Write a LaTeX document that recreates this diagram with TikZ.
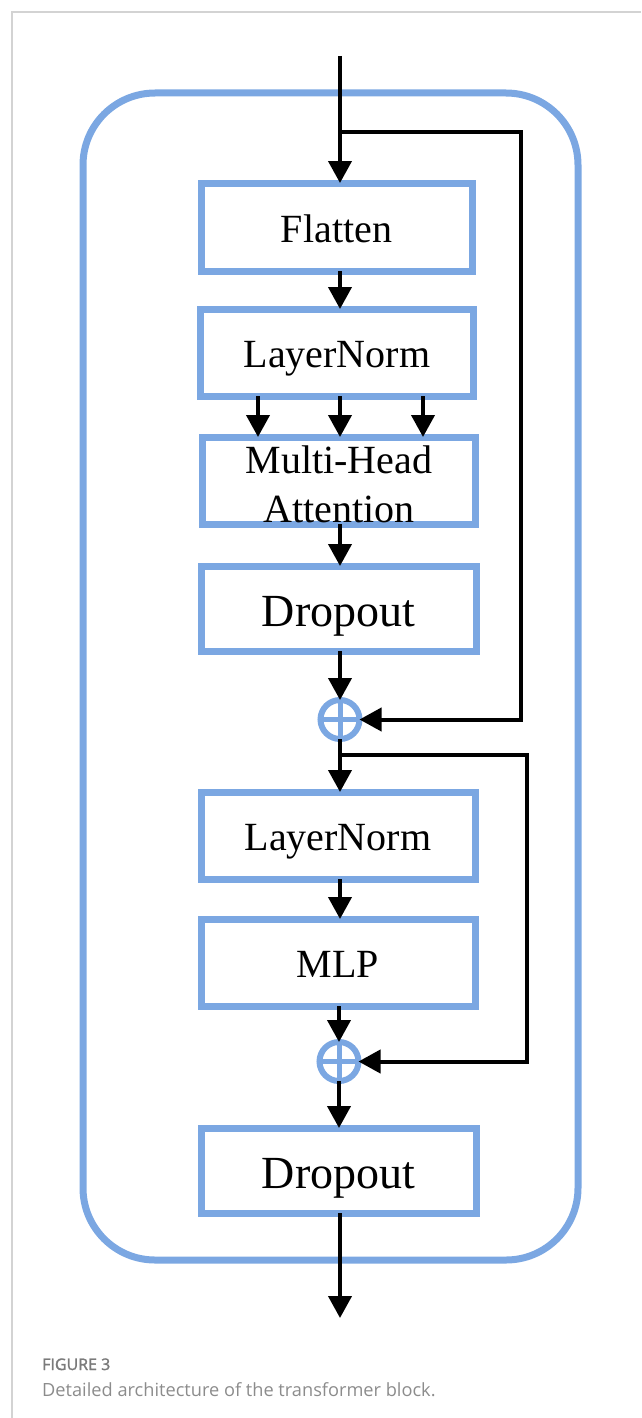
\documentclass[tikz,border=0pt]{standalone}
\usepackage{fontspec}
\newfontfamily\serifface{Liberation Serif}
\newfontfamily\capface{Open Sans}
\newfontfamily\caplabelface[RawFeature={embolden=1.6}]{Open Sans}
\usetikzlibrary{arrows.meta}
\definecolor{blockblue}{HTML}{7BA7E2}
\definecolor{rulegray}{HTML}{D3D3D3}
\definecolor{labelgray}{HTML}{7A7A7A}
\definecolor{captiongray}{HTML}{8C8C8C}
\begin{document}
\begin{tikzpicture}[x=1pt, y=-1pt,
  frame/.style={draw=blockblue, line width=7pt, rounded corners=72pt,
    inner sep=0pt, outer sep=0pt},
  layer/.style={draw=blockblue, line width=7pt, fill=white, inner sep=0pt,
    outer sep=0pt, minimum width=273pt, minimum height=87pt,
    font=\serifface\fontsize{40}{49}\selectfont, text height=30pt, text depth=0pt},
  bigtext/.style={font=\serifface\fontsize{46}{54}\selectfont, text height=36pt},
  sum/.style={circle, draw=blockblue, line width=6pt, fill=white,
    minimum size=39pt, inner sep=0pt, outer sep=0pt,
    path picture={\draw[blockblue, line width=5pt]
      (path picture bounding box.north) -- (path picture bounding box.south)
      (path picture bounding box.west) -- (path picture bounding box.east);}},
  arr/.style={-{Triangle[width=23pt, length=22pt]}, line width=4pt, black},
  wire/.style={line width=4pt, black}]

\useasboundingbox (0,0) rectangle (641,1418);

% page rule
\draw[rulegray, line width=1.5pt] (12,1418) -- (12,12) -- (641,12);

% transformer block frame
\node[frame, minimum width=495pt, minimum height=1167pt] (block) at (330.5,676.5) {};

% layers
\node[layer, minimum width=271pt, minimum height=88pt] (flatten) at (336.5,227) {Flatten};
\node[layer] (ln1) at (337,352.5) {LayerNorm};
\node[layer] (mha) at (339,480.5) {};
\node[anchor=north, inner sep=0pt, align=center,
  font=\serifface\fontsize{40}{49}\selectfont] (mhatext) at (339,446) {Multi-Head\\Attention};
\node[layer, bigtext, minimum width=275pt, minimum height=85pt] (drop1) at (338.5,608.5) {Dropout};
\node[layer, minimum width=274pt] (ln2) at (338,835.5) {LayerNorm};
\node[layer, minimum width=274pt] (mlp) at (338,962.5) {MLP};
\node[layer, bigtext, minimum width=275pt, minimum height=85pt] (drop2) at (338.5,1170.5) {Dropout};

% residual additions
\node[sum] (add1) at (340,719.5) {};
\node[sum] (add2) at (339,1061.5) {};

% helper coordinates
\coordinate (spine) at (340,0);
\coordinate (in) at (340,56);
\coordinate (out) at (340,1318);
\coordinate (hq) at (258,0);
\coordinate (hk) at (340,0);
\coordinate (hv) at (423,0);
\coordinate (skip1) at (340,132);
\coordinate (skip1a) at (521,132);
\coordinate (skip1b) at (521,719.5);
\coordinate (skip2) at (340,755);
\coordinate (skip2a) at (527,755);
\coordinate (skip2b) at (527,1061.5);

% main flow
\draw[arr] (in) -- (flatten.north -| spine);
\draw[arr] (flatten.south -| spine) -- (ln1.north -| spine);
\draw[arr] (ln1.south -| hq) -- (mha.north -| hq);
\draw[arr] (ln1.south -| hk) -- (mha.north -| hk);
\draw[arr] (ln1.south -| hv) -- (mha.north -| hv);
\draw[arr] (mha.south -| spine) -- (drop1.north -| spine);
\draw[arr] (drop1.south -| spine) -- (add1.north);
\draw[arr] (add1.south) -- (ln2.north -| spine);
\draw[arr] (ln2.south -| spine) -- (mlp.north -| spine);
\draw[arr] (mlp.south -| add2) -- (add2.north);
\draw[arr] (add2.south) -- (drop2.north -| add2);
\draw[arr] (drop2.south -| spine) -- (out);

% skip connections
\draw[arr] (skip1) -- (skip1a) -- (skip1b) -- (add1.east);
\draw[arr] (skip2) -- (skip2a) -- (skip2b) -- (add2.east);

% caption
\node[anchor=base west, inner sep=0pt, text=labelgray,
  font=\caplabelface\fontsize{16}{18}\selectfont] (figlabel) at (42,1370) {FIGURE 3};
\node[anchor=base west, inner sep=0pt, text=captiongray,
  font=\capface\fontsize{18.2}{22}\selectfont] (figcaption) at (42,1396)
  {Detailed architecture of the transformer block.};
\end{tikzpicture}
\end{document}
